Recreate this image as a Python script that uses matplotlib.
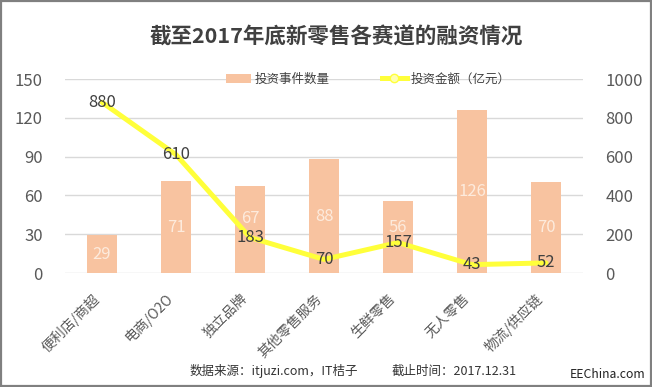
import matplotlib
matplotlib.use('Agg')
import matplotlib.pyplot as plt
from matplotlib.lines import Line2D
from matplotlib.patches import Patch, Rectangle
from matplotlib.transforms import offset_copy

plt.rcParams['font.family'] = ['Noto Sans CJK SC', 'DejaVu Sans']

# data
categories = ['便利店/商超', '电商/O2O', '独立品牌', '其他零售服务', '生鲜零售', '无人零售', '物流/供应链']
deal_count = [29, 71, 67, 88, 56, 126, 70]          # 投资事件数量
amount     = [880, 610, 183, 70, 157, 43, 52]       # 投资金额（亿元）
left_ticks  = [0, 30, 60, 90, 120, 150]
right_ticks = [0, 200, 400, 600, 800, 1000]
bar_label_lift = [0, 0, 8, 0, 7, 0, 0]              # pt, labels nudged up as in the original

BAR_C  = '#F8C3A0'
LINE_C = '#FFFF3A'
TICK_C = '#595959'
GRID_C = '#D9D9D9'

W, H = 652, 387
fig = plt.figure(figsize=(W / 100, H / 100), dpi=100)
ax = fig.add_axes([65 / W, 1 - 273 / H, 518 / W, 194 / H])
ax2 = ax.twinx()

x = list(range(len(categories)))
ax.bar(x, deal_count, width=0.4, color=BAR_C, zorder=2)
for xi, v, dy in zip(x, deal_count, bar_label_lift):
    ax.text(xi, v / 2, str(v), ha='center', va='center', fontsize=12,
            color='#FDEBDD', zorder=3,
            transform=offset_copy(ax.transData, fig=fig, y=dy, units='points'))

ax2.plot(x, amount, color=LINE_C, lw=3.6, solid_capstyle='round', zorder=4)
for xi, v in zip(x, amount):
    ax2.text(xi, v, str(v), ha='center', va='center', fontsize=12,
             color='#404040', zorder=5)

ax.set_xlim(-0.5, len(categories) - 0.5)
ax.set_ylim(0, 150)
ax2.set_ylim(0, 1000)
ax.set_yticks(left_ticks)
ax2.set_yticks(right_ticks)
ax.set_xticks(x)
ax.set_xticklabels(categories, rotation=45, ha='right', va='top',
                   fontsize=10, color=TICK_C)
ax.tick_params(axis='x', length=0, pad=13)
ax.tick_params(axis='y', length=0, pad=16, labelsize=12, labelcolor=TICK_C)
ax2.tick_params(axis='y', length=0, pad=16, labelsize=12, labelcolor=TICK_C)
ax.grid(axis='y', color=GRID_C, lw=1, zorder=0)
ax.set_axisbelow(True)
for a in (ax, ax2):
    for s in a.spines.values():
        s.set_visible(False)
ax.set_zorder(1)
ax2.set_zorder(2)
ax.patch.set_visible(False)

# legend
handles = [Patch(facecolor=BAR_C, edgecolor='none'),
           Line2D([0], [0], color=LINE_C, lw=3.6, marker='o', markersize=6,
                  markerfacecolor='#FFFFB0', markeredgecolor=LINE_C)]
fig.legend(handles, ['投资事件数量', '投资金额（亿元）'], loc='center',
           bbox_to_anchor=(368 / W, 1 - 79 / H), ncol=2, frameon=False,
           fontsize=9, handlelength=2.0, handleheight=0.7, handletextpad=0.3,
           columnspacing=4.2, labelcolor='#404040')

# title and footer
fig.text(336 / W, 1 - 37 / H, '截至2017年底新零售各赛道的融资情况', ha='center',
         va='center', fontsize=15.5, fontweight='bold', color='#404040')
fig.text(190 / W, 1 - 371 / H, '数据来源：itjuzi.com，IT桔子', ha='left',
         va='center', fontsize=9, color='#333333')
fig.text(392 / W, 1 - 371 / H, '截止时间：2017.12.31', ha='left',
         va='center', fontsize=9, color='#333333')
fig.text(570 / W, 1 - 374 / H, 'EEChina.com', ha='left', va='center',
         fontsize=8.8, color='#222222')

# outer border
fig.patches.append(Rectangle((0.001, 0.002), 0.997, 0.996, transform=fig.transFigure,
                             fill=False, edgecolor='#808080', lw=1.6))

fig.savefig('out.png', dpi=100)
